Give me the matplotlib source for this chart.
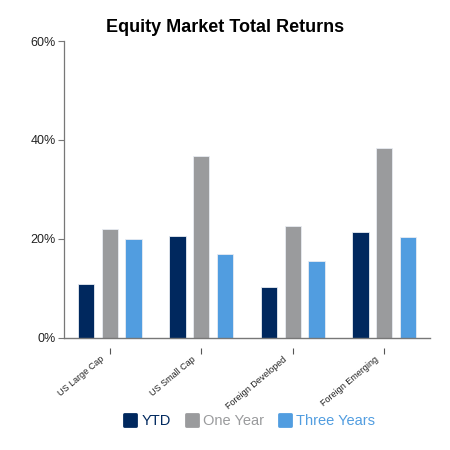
import numpy as np
import matplotlib
matplotlib.use("Agg")
import matplotlib.pyplot as plt
import matplotlib.transforms as mtransforms
from matplotlib.lines import Line2D
from matplotlib.markers import MarkerStyle

plt.rcParams['font.family'] = ['Liberation Sans', 'DejaVu Sans']

# data (percent)
categories = ["US Large Cap", "US Small Cap", "Foreign Developed", "Foreign Emerging"]
series_names = ["YTD", "One Year", "Three Years"]
ytd = [11.0, 20.6, 10.3, 21.4]
one_year = [22.0, 36.7, 22.6, 38.4]
three_years = [20.0, 16.9, 15.6, 20.4]
yticks = [0, 20, 40, 60]

colors = ["#00285e", "#9a9b9d", "#519de0"]

fig = plt.figure(figsize=(4.5, 4.5), dpi=100)
ax = fig.add_axes([64/450, 1 - 338/450, (430-64)/450, (338-41)/450])

# spines first (set_position resets the ticks)
for s in ["top", "right"]:
    ax.spines[s].set_visible(False)
ax.spines["left"].set_color("#777777")
ax.spines["left"].set_linewidth(0.9)
ax.spines["bottom"].set_position(("outward", 7))
ax.spines["bottom"].set_color("none")

x = np.arange(len(categories))
offset = 0.257
width = 0.18
for i, (vals, name) in enumerate(zip([ytd, one_year, three_years], series_names)):
    ax.bar(x + (i - 1) * offset, vals, width, color=colors[i],
           edgecolor="#e8ecf2", linewidth=0.6, label=name, zorder=2)

ax.axhline(0, color="#777777", linewidth=1.0, clip_on=False, zorder=3)

ax.set_xlim(-0.5, 3.5)
ax.set_ylim(0, 60)
ax.set_yticks(yticks)
ax.set_yticklabels([f"{v}%" for v in yticks], fontsize=9, color="#222222")
ax.tick_params(axis='y', length=4, width=0.8, color="#777777", pad=2)

ax.set_xticks(x)
ax.set_xticklabels(categories, rotation=40, ha='right', rotation_mode='anchor',
                   fontsize=6.5, color="#222222")
ax.tick_params(axis='x', length=4, width=0.8, color="#555555", pad=1)
shift = mtransforms.ScaledTranslation(-10/100, 0, fig.dpi_scale_trans)
for lab in ax.get_xticklabels():
    lab.set_transform(lab.get_transform() + shift)

fig.text(0.5, 1 - 27/450, "Equity Market Total Returns", ha='center', va='center',
         fontsize=13, fontweight='bold')

handles = [Line2D([0], [0], marker=MarkerStyle('s', joinstyle='round'), linestyle='none',
                  markersize=8, markeredgewidth=2,
                  markerfacecolor=c, markeredgecolor=c) for c in colors]
leg = fig.legend(handles, series_names, loc='center', bbox_to_anchor=(249/450, 1 - 421/450),
                 ncol=3, frameon=False, fontsize=10.5, handletextpad=0.3,
                 columnspacing=0.9, handlelength=1.0)
for t, c in zip(leg.get_texts(), colors):
    t.set_color(c)

fig.savefig("out.png", dpi=100)
